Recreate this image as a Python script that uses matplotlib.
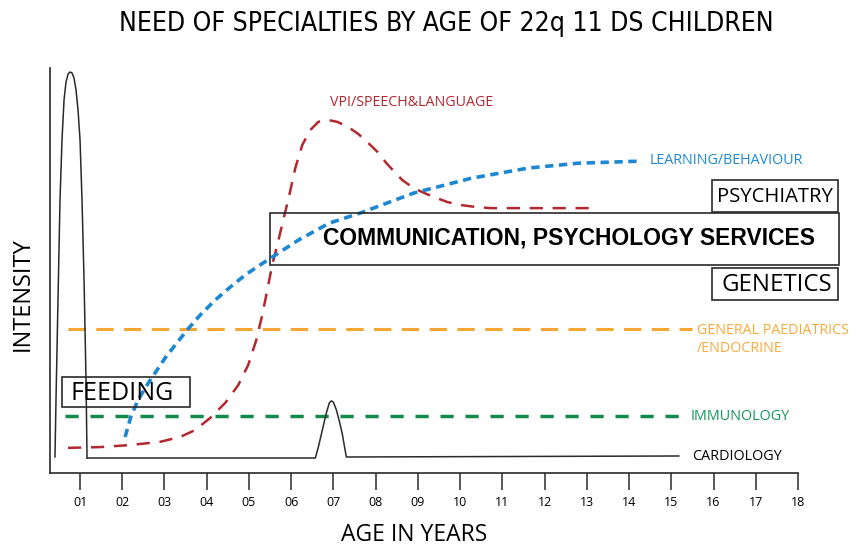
import matplotlib
matplotlib.use("Agg")
import matplotlib.pyplot as plt
from matplotlib.patches import Rectangle
from matplotlib import font_manager as fm

plt.rcParams['lines.scale_dashes'] = False

W, H, DPI = 862, 546, 100

# ---------------- data (age in years, relative intensity 0-100) ----------------
age_ticks = list(range(1, 19))
tick_labels = ["01", "02", "03", "04", "05", "06", "07", "08", "09",
               "10", "11", "12", "13", "14", "15", "16", "17", "18"]

feeding_age = [0.407, 0.431, 0.478, 0.526, 0.573, 0.621, 0.668, 0.716, 0.763,
               0.810, 0.858, 0.905, 0.953, 1.0, 1.047, 1.095, 1.142, 1.166]
feeding_int = [3.95, 18.0, 42.7, 67.4, 82.2, 92.1, 96.5, 98.5, 99.0,
               98.8, 97.5, 94.6, 89.6, 82.2, 67.4, 47.7, 23.0, 3.7]

cardio_age = [1.166, 6.571, 6.643, 6.737, 6.832, 6.903, 6.950, 6.998, 7.069,
              7.140, 7.211, 7.259, 7.306, 15.177]
cardio_int = [3.7, 3.7, 6.4, 10.6, 14.8, 17.3, 17.8, 17.5, 15.6,
              12.8, 9.6, 6.7, 3.95, 4.2]

vpi_age = [0.716, 1.474, 2.185, 2.897, 3.371, 3.726, 4.082, 4.438, 4.746, 4.983,
           5.173, 5.315, 5.434, 5.552, 5.671, 5.813, 5.955, 6.097, 6.263, 6.453,
           6.643, 6.856, 7.093, 7.354, 7.591, 7.804, 8.041, 8.255, 8.468, 8.634,
           8.824, 8.990, 9.203, 9.440, 9.701, 9.985, 10.365, 10.720, 11.621,
           12.380, 13.139]
vpi_int = [6.2, 6.4, 6.9, 7.7, 8.9, 10.6, 13.6, 17.3, 21.7, 26.7,
           32.8, 39.0, 45.2, 51.4, 56.3, 62.5, 68.6, 75.3, 81.0, 84.7,
           86.7, 87.2, 86.7, 85.4, 83.7, 81.7, 79.3, 76.5, 74.1, 72.3,
           70.9, 69.9, 68.9, 67.9, 66.9, 66.2, 65.7, 65.4, 65.4,
           65.4, 65.4]

learning_age = [2.067, 2.209, 2.375, 2.541, 2.731, 3.015, 3.276, 3.560, 3.845,
                4.201, 4.556, 4.912, 5.268, 5.742, 6.168, 6.903, 7.638, 8.895,
                10.270, 11.621, 12.806, 14.253]
learning_int = [8.9, 14.1, 18.0, 21.0, 24.0, 28.4, 31.9, 35.6, 39.0,
                42.7, 45.9, 48.9, 51.4, 54.6, 57.5, 61.7, 64.2, 69.1,
                72.8, 75.3, 76.5, 77.0]

paed_age = [0.716, 15.50]
paed_int = [35.6, 35.6]

immuno_age = [0.645, 15.30]
immuno_int = [14.1, 14.1]

# ---------------- colours ----------------
RED = "#b3282e"
BLUE = "#1d88d2"
ORANGE = "#f6a733"
GREEN = "#118a4c"
DARK = "#2a2a2a"

FONT = "Open Sans"

# pick a condensed face for the title if one is installed
title_kw = dict(family=FONT, fontsize=17.3)
for fam in ("Liberation Sans Narrow", "DejaVu Sans"):
    try:
        path = fm.findfont(fm.FontProperties(family=fam, stretch='condensed'),
                           fallback_to_default=False)
    except Exception:
        continue
    low = path.lower()
    if "narrow" in low or "condensed" in low:
        title_kw = dict(family=fam, stretch='condensed', fontsize=19)
        break

fig = plt.figure(figsize=(W / DPI, H / DPI), dpi=DPI)
ax = fig.add_axes([50 / W, 1 - 473 / H, (798 - 50) / W, (473 - 68) / H])
ax.set_xlim(0.289, 18.0)
ax.set_ylim(0, 100)

ax.plot(paed_age, paed_int, color=ORANGE, lw=2.2, dashes=(12.5, 7.5), solid_capstyle='butt')
ax.plot(immuno_age, immuno_int, color=GREEN, lw=2.5, dashes=(9.5, 8.5))
ax.plot(feeding_age, feeding_int, color=DARK, lw=1.1)
ax.plot(cardio_age, cardio_int, color=DARK, lw=1.1)
ax.plot(vpi_age, vpi_int, color=RED, lw=1.8, dashes=(9.5, 7.0))
ax.plot(learning_age, learning_int, color=BLUE, lw=2.6, dashes=(6.0, 4.0))

for s in ("top", "right"):
    ax.spines[s].set_visible(False)
for s in ("left", "bottom"):
    ax.spines[s].set_color(DARK)
    ax.spines[s].set_linewidth(1.2)
ax.set_yticks([])
ax.set_xticks(age_ticks)
ax.set_xticklabels(tick_labels, fontfamily=FONT, fontsize=9)
ax.tick_params(axis='x', direction='out', length=12.5, width=1.1, color=DARK, pad=4)


def ftext(px, py, s, **kw):
    fig.text(px / W, 1 - py / H, s, **kw)


def fbox(x0, y0, x1, y1):
    fig.add_artist(Rectangle((x0 / W, 1 - y1 / H), (x1 - x0) / W, (y1 - y0) / H,
                             transform=fig.transFigure, fill=False, lw=1.2, ec=DARK))


ftext(446, 24, "NEED OF SPECIALTIES BY AGE OF 22q 11 DS CHILDREN",
      ha='center', va='center', color='black', **title_kw)
ftext(414, 541, "AGE IN YEARS", family=FONT, fontsize=16.5, ha='center', va='baseline')
ftext(23, 294, "INTENSITY", family=FONT, fontsize=17, ha='center', va='center', rotation=90)

ftext(412, 103, "VPI/SPEECH&LANGUAGE", family=FONT, fontsize=10.3, ha='center', va='center', color=RED)
ftext(650, 160, "LEARNING/BEHAVIOUR", family=FONT, fontsize=10.3, ha='left', va='center', color=BLUE)
ftext(697, 330, "GENERAL PAEDIATRICS", family=FONT, fontsize=10.3, ha='left', va='center', color="#f8ab3c")
ftext(697, 349, "/ENDOCRINE", family=FONT, fontsize=10.3, ha='left', va='center', color="#f8ab3c")
ftext(691, 416, "IMMUNOLOGY", family=FONT, fontsize=10.4, ha='left', va='center', color="#16955a")
ftext(692, 456, "CARDIOLOGY", family=FONT, fontsize=10.4, ha='left', va='center', color='black')

fbox(712, 180, 838, 212)
ftext(775, 197, "PSYCHIATRY", family=FONT, fontsize=14.6, ha='center', va='center')
fbox(712, 268, 838, 300)
ftext(777, 285, "GENETICS", family=FONT, fontsize=17.3, ha='center', va='center')
fbox(270, 213, 839, 265)
ftext(569, 238, "COMMUNICATION, PSYCHOLOGY SERVICES", family="Liberation Sans",
      fontweight='bold', fontsize=16.5, ha='center', va='center')
fbox(62, 377, 190, 407)
ftext(122, 393, "FEEDING", family=FONT, fontsize=18, ha='center', va='center')

fig.savefig("out.png", dpi=DPI)
